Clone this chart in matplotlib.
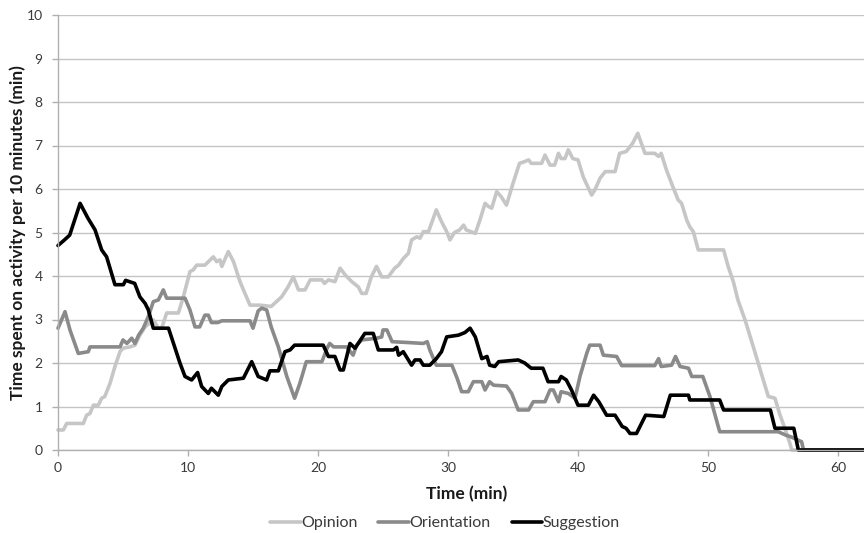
import matplotlib
matplotlib.use("Agg")
import matplotlib.pyplot as plt

plt.rcParams['font.family'] = ['Lato', 'DejaVu Sans']

# moving 10-minute totals per activity: (time in min, minutes of activity)
opinion = [
    (0, 0.46), (0.41, 0.46), (0.67, 0.61), (1.95, 0.61), (2.2, 0.8), (2.46, 0.84),
    (2.72, 1.03), (3.1, 1.03), (3.36, 1.19), (3.6, 1.23), (4.0, 1.53), (4.38, 1.92),
    (4.77, 2.26), (5.0, 2.34), (5.54, 2.37), (5.92, 2.41), (6.3, 2.64), (6.7, 2.83),
    (7.33, 2.99), (7.72, 2.8), (7.97, 2.8), (8.36, 3.15), (9.26, 3.15), (9.64, 3.52),
    (10.15, 4.1), (10.4, 4.14), (10.67, 4.25), (11.3, 4.25), (11.95, 4.44), (12.2, 4.33),
    (12.46, 4.37), (12.6, 4.22), (13.1, 4.56), (13.5, 4.33), (14.0, 3.87), (14.38, 3.6),
    (14.77, 3.33), (15.54, 3.33), (16.4, 3.3), (16.95, 3.45), (17.2, 3.52), (17.46, 3.64),
    (17.7, 3.75), (18.1, 3.98), (18.5, 3.68), (19.0, 3.68), (19.4, 3.91), (20.3, 3.91),
    (20.5, 3.83), (20.8, 3.91), (21.3, 3.87), (21.7, 4.18), (22.1, 4.02), (22.6, 3.87),
    (23.1, 3.75), (23.36, 3.6), (23.7, 3.6), (24.1, 3.98), (24.5, 4.22), (24.9, 3.98),
    (25.4, 3.98), (25.9, 4.18), (26.2, 4.25), (26.56, 4.4), (26.95, 4.52), (27.2, 4.83),
    (27.6, 4.9), (27.85, 4.87), (28.1, 5.02), (28.5, 5.02), (29.1, 5.52), (29.5, 5.25),
    (29.9, 5.02), (30.15, 4.83), (30.5, 5.0), (30.9, 5.06), (31.2, 5.17), (31.4, 5.06),
    (32.1, 4.98), (32.46, 5.29), (32.85, 5.67), (33.1, 5.6), (33.36, 5.56), (33.75, 5.94),
    (34.1, 5.82), (34.5, 5.63), (35.0, 6.13), (35.5, 6.59), (35.9, 6.63), (36.2, 6.67),
    (36.4, 6.59), (37.2, 6.59), (37.46, 6.78), (37.85, 6.55), (38.2, 6.55), (38.5, 6.82),
    (38.7, 6.7), (39.0, 6.7), (39.25, 6.9), (39.6, 6.7), (40.0, 6.67), (40.4, 6.28),
    (40.8, 6.02), (41.05, 5.86), (41.3, 5.98), (41.7, 6.25), (42.1, 6.4), (42.85, 6.4),
    (43.2, 6.82), (43.7, 6.86), (44.0, 6.97), (44.2, 7.05), (44.6, 7.28), (45.15, 6.82),
    (45.9, 6.82), (46.2, 6.75), (46.4, 6.82), (46.8, 6.44), (47.3, 6.05), (47.7, 5.75),
    (47.97, 5.67), (48.36, 5.29), (48.6, 5.13), (48.87, 5.02), (49.25, 4.6), (51.2, 4.6),
    (51.56, 4.21), (51.95, 3.87), (52.3, 3.45), (52.85, 2.99), (53.6, 2.26), (54.1, 1.76),
    (54.64, 1.23), (55.15, 1.19), (55.5, 0.84), (56.05, 0.38), (56.3, 0.15), (56.44, 0),
    (62, 0),
]

orientation = [
    (0, 2.8), (0.54, 3.18), (0.92, 2.76), (1.56, 2.22), (2.33, 2.26), (2.46, 2.37),
    (4.77, 2.37), (5.0, 2.53), (5.3, 2.45), (5.67, 2.57), (5.92, 2.45), (6.2, 2.64),
    (6.56, 2.8), (6.95, 3.07), (7.33, 3.41), (7.72, 3.45), (8.1, 3.68), (8.36, 3.49),
    (9.77, 3.49), (10.15, 3.22), (10.54, 2.83), (10.9, 2.83), (11.3, 3.1), (11.56, 3.1),
    (11.8, 2.93), (12.3, 2.93), (12.6, 2.97), (14.77, 2.97), (15.0, 2.8), (15.4, 3.2),
    (15.67, 3.26), (16.05, 3.22), (16.4, 2.83), (16.95, 2.37), (17.6, 1.69), (18.2, 1.19),
    (18.6, 1.53), (19.1, 2.03), (20.3, 2.03), (20.7, 2.34), (20.9, 2.45), (21.2, 2.37),
    (22.2, 2.37), (22.7, 2.18), (22.97, 2.41), (23.36, 2.53), (24.5, 2.57), (24.9, 2.6),
    (25.0, 2.76), (25.3, 2.76), (25.7, 2.49), (26.95, 2.47), (28.1, 2.45), (28.4, 2.49),
    (28.6, 2.3), (29.1, 1.95), (30.3, 1.95), (30.7, 1.65), (31.05, 1.34), (31.56, 1.34),
    (31.95, 1.57), (32.6, 1.57), (32.85, 1.38), (33.2, 1.57), (33.5, 1.49), (34.5, 1.47),
    (34.9, 1.3), (35.4, 0.92), (36.2, 0.92), (36.56, 1.11), (37.46, 1.11), (37.85, 1.38),
    (38.1, 1.38), (38.5, 1.11), (38.7, 1.34), (39.25, 1.3), (39.77, 1.19), (40.15, 1.69),
    (40.67, 2.22), (40.9, 2.41), (41.7, 2.41), (41.95, 2.18), (42.97, 2.15), (43.36, 1.94),
    (45.9, 1.94), (46.2, 2.1), (46.4, 1.92), (47.2, 1.95), (47.5, 2.15), (47.85, 1.92),
    (48.5, 1.88), (48.75, 1.69), (49.6, 1.69), (50.15, 1.23), (50.9, 0.42), (55.4, 0.42),
    (56.0, 0.34), (56.4, 0.3), (57.2, 0.19), (57.35, 0), (62, 0),
]

suggestion = [
    (0, 4.7), (0.5, 4.83), (0.9, 4.94), (1.7, 5.67), (2.3, 5.33), (2.85, 5.06),
    (3.36, 4.6), (3.74, 4.44), (4.38, 3.8), (5.03, 3.8), (5.2, 3.9), (5.9, 3.83),
    (6.3, 3.52), (6.7, 3.37), (6.95, 3.22), (7.33, 2.8), (8.5, 2.8), (9.38, 2.0),
    (9.77, 1.69), (10.28, 1.61), (10.74, 1.78), (11.05, 1.46), (11.56, 1.3), (11.8, 1.42),
    (12.33, 1.26), (12.6, 1.46), (13.1, 1.61), (14.26, 1.65), (14.9, 2.03), (15.4, 1.69),
    (16.05, 1.61), (16.3, 1.82), (16.95, 1.82), (17.46, 2.26), (17.85, 2.3), (18.2, 2.41),
    (20.4, 2.41), (20.8, 2.15), (21.3, 2.15), (21.7, 1.84), (21.95, 1.84), (22.46, 2.45),
    (22.85, 2.34), (23.6, 2.68), (24.25, 2.68), (24.64, 2.3), (25.8, 2.3), (26.05, 2.36),
    (26.2, 2.18), (26.56, 2.26), (27.2, 1.95), (27.46, 2.07), (27.85, 2.07), (28.1, 1.95),
    (28.6, 1.95), (29.1, 2.1), (29.5, 2.26), (29.9, 2.6), (30.8, 2.64), (31.3, 2.7),
    (31.7, 2.8), (32.1, 2.6), (32.6, 2.1), (33.0, 2.15), (33.2, 1.95), (33.6, 1.92),
    (33.9, 2.03), (35.4, 2.07), (35.9, 2.0), (36.4, 1.88), (37.3, 1.88), (37.7, 1.57),
    (38.5, 1.57), (38.7, 1.69), (39.1, 1.61), (39.5, 1.38), (40.0, 1.03), (40.8, 1.03),
    (41.2, 1.26), (41.6, 1.11), (42.2, 0.8), (42.85, 0.8), (43.4, 0.54), (43.7, 0.5),
    (44.0, 0.38), (44.5, 0.38), (45.2, 0.8), (46.6, 0.77), (47.1, 1.26), (48.5, 1.26),
    (48.6, 1.15), (50.9, 1.15), (51.2, 0.92), (54.8, 0.92), (55.15, 0.5), (56.6, 0.5),
    (56.95, 0), (62, 0),
]

series = [
    ("Opinion", opinion, "#c6c6c6"),
    ("Orientation", orientation, "#8a8a8a"),
    ("Suggestion", suggestion, "#000000"),
]

x_ticks = [0, 10, 20, 30, 40, 50, 60]
y_ticks = list(range(0, 11))

W, H = 864, 533
fig = plt.figure(figsize=(W / 100, H / 100), dpi=100)
ax = fig.add_axes([58 / W, 1 - 450 / H, 1 - 58 / W, 435 / H])

for name, pts, color in series:
    t = [p[0] for p in pts]
    v = [p[1] for p in pts]
    ax.plot(t, v, color=color, lw=2.6, label=name,
            solid_joinstyle="round", solid_capstyle="round", clip_on=False)

ax.set_xlim(0, 62)
ax.set_ylim(0, 10)
ax.set_xticks(x_ticks)
ax.set_yticks(y_ticks)

ax.grid(axis="y", color="#c4c4c4", lw=1)
ax.set_axisbelow(True)
for s in ("top", "right"):
    ax.spines[s].set_visible(False)
for s in ("left", "bottom"):
    ax.spines[s].set_color("#b0b0b0")
    ax.spines[s].set_linewidth(1)

ax.tick_params(axis="both", colors="#b0b0b0", labelcolor="#3a3a3a",
               labelsize=10, length=4, width=1)
ax.tick_params(axis="x", pad=5)
ax.tick_params(axis="y", pad=7)

ax.set_xlabel("Time (min)", fontsize=12.5, fontweight="bold", color="#1a1a1a", va="center")
ax.xaxis.set_label_coords((467 - 58) / (W - 58), (450 - 494) / 435)
ax.set_ylabel("Time spent on activity per 10 minutes (min)", fontsize=12.5,
              fontweight="bold", color="#1a1a1a", va="center")
ax.yaxis.set_label_coords((18 - 58) / (W - 58), 0.5)

fig.legend(loc="center", bbox_to_anchor=(445 / W, 1 - 523 / H), ncol=3,
           frameon=False, fontsize=11.5, handlelength=1.9, handletextpad=0.05,
           columnspacing=1.3, labelcolor="#3a3a3a", borderpad=0)

fig.savefig("out.png", dpi=100)
